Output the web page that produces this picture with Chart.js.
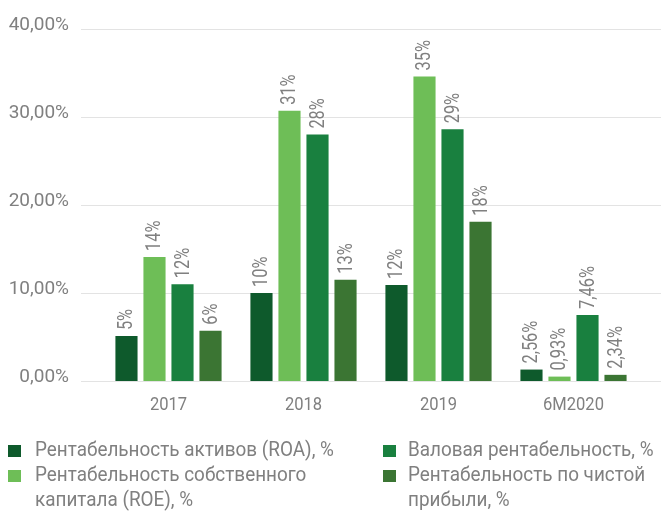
<!DOCTYPE html>
<html><head><meta charset="utf-8">
<script src="https://cdn.jsdelivr.net/npm/chart.js@4/dist/chart.umd.min.js"></script>
<style>
html,body{margin:0;padding:0;background:#fff;width:661px;height:511px;overflow:hidden;}
</style></head>
<body>
<canvas id="c" width="661" height="511"></canvas>
<script>
const categories = ["2017", "2018", "2019", "6M2020"];
const seriesNames = ["Рентабельность активов (ROA), %", "Рентабельность собственного капитала (ROE), %", "Валовая рентабельность, %", "Рентабельность по чистой прибыли, %"];
const roa   = [5.1, 10.0, 10.9, 1.3];
const roe   = [14.1, 30.7, 34.6, 0.5];
const gross = [11.0, 28.0, 28.6, 7.5];
const net   = [5.7, 11.5, 18.1, 0.7];
const roaLabels   = ["5%", "10%", "12%", "2,56%"];
const roeLabels   = ["14%", "31%", "35%", "0,93%"];
const grossLabels = ["12%", "28%", "29%", "7,46%"];
const netLabels   = ["6%", "13%", "18%", "2,34%"];
const yTicks = [0, 10, 20, 30, 40];
const colors = ["#0e5a2c", "#6ebe57", "#19803f", "#3b7533"];

const FONT = 'Roboto, "Noto Sans", sans-serif';
const GREY = "#808080";
const allVals = [roa, roe, gross, net];
const allLabels = [roaLabels, roeLabels, grossLabels, netLabels];

function scaledText(ctx, txt, x, y, k) {
  ctx.save(); ctx.translate(x, y); ctx.scale(k, 1); ctx.fillText(txt, 0, 0); ctx.restore();
}

const gridPlugin = {
  id: "fullGrid",
  beforeDatasetsDraw(chart) {
    const ctx = chart.ctx, y = chart.scales.y, x = chart.scales.x;
    ctx.save();
    ctx.strokeStyle = "#e3e3e3";
    ctx.lineWidth = 1;
    yTicks.forEach(v => {
      const py = Math.round(y.getPixelForValue(v)) + 0.5;
      ctx.beginPath(); ctx.moveTo(81, py); ctx.lineTo(661, py); ctx.stroke();
    });
    ctx.fillStyle = GREY;
    // y tick labels
    ctx.font = "19px " + FONT;
    ctx.textAlign = "right"; ctx.textBaseline = "alphabetic";
    yTicks.forEach(v => {
      const py = y.getPixelForValue(v);
      ctx.fillText(v.toFixed(2).replace(".", ",") + "%", 69, py + 1);
    });
    // x tick labels
    ctx.font = "19px " + FONT;
    ctx.textAlign = "center"; ctx.textBaseline = "middle";
    categories.forEach((c, i) => {
      scaledText(ctx, c, x.getPixelForValue(i), 405, 0.87);
    });
    // legend
    const rows = [[8, 35, 451, 340], [8, 35, 476, 340], [383, 408, 451, 256], [383, 408, 476, 256]];
    ctx.font = "21px " + FONT;
    ctx.textAlign = "left"; ctx.textBaseline = "middle";
    const k = 0.9;
    seriesNames.forEach((n, i) => {
      const [sx, tx, ty, maxW] = rows[i];
      ctx.fillStyle = colors[i];
      ctx.fillRect(sx, ty - 6, 13, 12);
      ctx.fillStyle = GREY;
      const words = n.split(" ");
      const lines = []; let cur = "";
      words.forEach(w => {
        const t = cur ? cur + " " + w : w;
        if (ctx.measureText(t).width * k > maxW && cur) { lines.push(cur); cur = w; } else cur = t;
      });
      lines.push(cur);
      lines.forEach((ln, li) => scaledText(ctx, ln, tx, ty + li * 25, k));
    });
    ctx.restore();
  }
};
const labelPlugin = {
  id: "vlabels",
  afterDatasetsDraw(chart) {
    const ctx = chart.ctx;
    ctx.save();
    ctx.fillStyle = GREY;
    ctx.font = "20px " + FONT;
    ctx.textAlign = "left";
    ctx.textBaseline = "middle";
    chart.data.datasets.forEach((ds, di) => {
      chart.getDatasetMeta(di).data.forEach((bar, i) => {
        ctx.save();
        ctx.translate(bar.x + 1, bar.y - 6);
        ctx.rotate(-Math.PI / 2);
        ctx.scale(0.82, 1);
        ctx.fillText(allLabels[di][i], 0, 0);
        ctx.restore();
      });
    });
    ctx.restore();
  }
};

new Chart(document.getElementById("c"), {
  type: "bar",
  data: {
    labels: categories,
    datasets: allVals.map((vals, i) => ({
      label: seriesNames[i], data: vals, backgroundColor: colors[i],
      categoryPercentage: 0.83, barPercentage: 0.79
    }))
  },
  options: {
    responsive: false, animation: false,
    layout: { padding: { left: 0, right: 20, top: 29, bottom: 79 } },
    plugins: { legend: { display: false }, tooltip: { enabled: false } },
    scales: {
      x: {
        grid: { display: false, drawTicks: false },
        border: { display: false },
        ticks: { display: false },
        afterFit(s) { s.height = 51; }
      },
      y: {
        min: 0, max: 40,
        afterBuildTicks(s) { s.ticks = yTicks.map(v => ({ value: v })); },
        grid: { display: false, drawTicks: false },
        border: { display: false },
        ticks: { display: false },
        afterFit(s) { s.width = 101; }
      }
    }
  },
  plugins: [gridPlugin, labelPlugin]
});
</script>
</body></html>
